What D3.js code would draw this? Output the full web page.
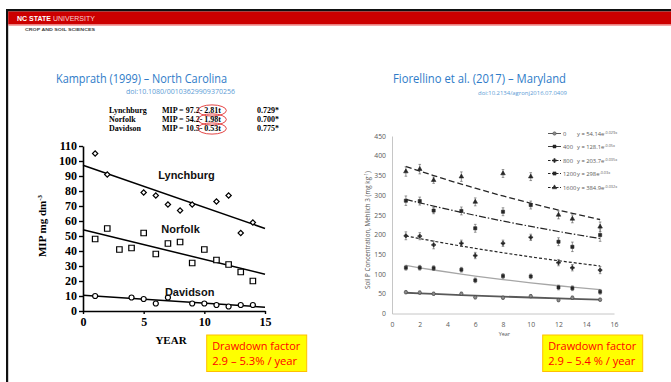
<!DOCTYPE html>
<html>
<head>
<meta charset="utf-8">
<script src="https://d3js.org/d3.v7.min.js"></script>
<style>
  body { margin: 0; background: #fff; }
  svg { display: block; }
</style>
</head>
<body>
<div id="chart"></div>
<script>
// ---- Kamprath (1999) – North Carolina ----
const lynchYears = [1, 2, 5, 6, 7, 8, 9, 11, 12, 13, 14];
const lynchMIP = [105, 91, 79, 77, 71, 67, 71, 73, 77, 52, 59];
const norfolkYears = [1, 2, 3, 4, 5, 6, 7, 8, 9, 10, 11, 12, 13, 14];
const norfolkMIP = [48, 55, 41, 42, 52, 38, 45, 46, 32, 41, 34, 31, 26, 20];
const davidsonYears = [1, 4, 5, 6, 7, 9, 10, 11, 12, 13, 14];
const davidsonMIP = [10, 9, 8, 5, 9, 5, 5, 4, 3, 4, 4];
const soils = ["Lynchburg", "Norfolk", "Davidson"];
const fitIntercept = [97.2, 54.2, 10.5];
const fitSlope = [2.81, 1.98, 0.53];
const fitR2 = ["0.729*", "0.700*", "0.775*"];
const kYTicks = [0, 10, 20, 30, 40, 50, 60, 70, 80, 90, 100, 110];
const kXTicks = [0, 5, 10, 15];

// ---- Fiorellino et al. (2017) – Maryland ----
const mdYears = [1, 2, 3, 5, 6, 8, 10, 12, 13, 15];
const pRates = ["0", "400", "800", "1200", "1600"];
const soilP0 = [54, 53, 50, 50, 41, 40, 44, 34, 40, 35];
const soilP400 = [116, 116, 115, 111, 84, 95, 94, 66, 64, 55];
const soilP800 = [197, 196, 174, 178, 147, 178, 193, 129, 116, 110];
const soilP1200 = [286, 285, 261, 260, 216, 258, 275, 182, 169, 199];
const soilP1600 = [360, 366, 338, 347, 283, 355, 347, 250, 240, 220];
const err0 = [4, 4, 4, 4, 4, 4, 4, 4, 4, 4];
const err400 = [6, 6, 6, 6, 6, 6, 6, 6, 6, 6];
const err800 = [10, 9, 10, 8, 8, 8, 8, 8, 8, 9];
const err1200 = [12, 10, 8, 10, 10, 10, 10, 10, 12, 16];
const err1600 = [12, 12, 8, 12, 10, 10, 10, 10, 10, 12];
const expA = ["54.14", "128.1", "203.7", "298", "384.9"];
const expK = [0.029, 0.05, 0.035, 0.03, 0.032];
const expText = ["-0.029x", "-0.05x", "-0.035x", "-0.03x", "-0.032x"];
const mdYTicks = [0, 50, 100, 150, 200, 250, 300, 350, 400, 450];
const mdXTicks = [0, 2, 4, 6, 8, 10, 12, 14, 16];

const drawdown = ["2.9 – 5.3% / year", "2.9 – 5.4 % / year"];

const W = 671, H = 382;
const svg = d3.select("#chart").append("svg")
  .attr("width", W).attr("height", H);

/* slide frame */
svg.append("rect").attr("x", 6).attr("y", 9).attr("width", W - 6).attr("height", 2.5).attr("fill", "#111");
svg.append("rect").attr("x", 6).attr("y", 9).attr("width", 2.2).attr("height", H - 9).attr("fill", "#111");
svg.append("rect").attr("x", 8.2).attr("y", 11.5).attr("width", W - 8).attr("height", 13).attr("fill", "#cc0000");
svg.append("rect").attr("x", 8.2).attr("y", 24.5).attr("width", W - 8).attr("height", 1.2).attr("fill", "#f08080");

const hdr = svg.append("text").attr("x", 17).attr("y", 21)
  .style("font-family", "'Liberation Sans', Arial, sans-serif").style("font-size", "7px");
hdr.append("tspan").attr("fill", "#fff").style("font-weight", "bold").text("NC STATE ");
hdr.append("tspan").attr("fill", "#f7d0d0").text("UNIVERSITY");
svg.append("text").attr("x", 25).attr("y", 30.5)
  .attr("textLength", 70).attr("lengthAdjust", "spacingAndGlyphs")
  .style("font-family", "'Liberation Sans', Arial, sans-serif").style("font-size", "4.2px")
  .style("font-weight", "bold").attr("fill", "#444").text("CROP AND SOIL SCIENCES");

/* titles */
function title(x, y, w, txt, size, col) {
  svg.append("text").attr("x", x).attr("y", y)
    .attr("textLength", w).attr("lengthAdjust", "spacingAndGlyphs")
    .style("font-family", "'Open Sans', 'Noto Sans', sans-serif").style("font-size", size + "px")
    .attr("fill", col).text(txt);
}
title(56, 83, 171, "Kamprath (1999) – North Carolina", 12, "#2e7bc8");
title(126, 93.5, 109, "doi:10.1080/00103629909370256", 6.3, "#5b9bd5");
title(393, 83, 173, "Fiorellino et al. (2017) – Maryland", 12, "#2e7bc8");
title(478, 95, 89, "doi:10.2134/agronj2016.07.0409", 5.2, "#5b9bd5");

/* ================= left chart ================= */
const xL = d3.scaleLinear().domain([0, 15]).range([83, 265]);
const yL = d3.scaleLinear().domain([0, 110]).range([311, 146]);
const serif = "'Liberation Serif', 'Times New Roman', serif";

// equation table
const eqRows = [113, 122, 131];
soils.forEach((s, i) => {
  const f = svg.append("g").style("font-family", serif).style("font-size", "8px").style("font-weight", "bold");
  f.append("text").attr("x", 109).attr("y", eqRows[i]).text(s);
  const left = f.append("text").attr("x", 162).attr("y", eqRows[i]).text(`MIP = ${fitIntercept[i]} `);
  const lw = left.node().getComputedTextLength();
  const sl = f.append("text").attr("x", 162 + lw).attr("y", eqRows[i]).text(`- ${fitSlope[i]}t`);
  const b = sl.node().getBBox();
  f.append("text").attr("x", 257).attr("y", eqRows[i]).text(fitR2[i]);
  svg.append("ellipse")
    .attr("cx", b.x + b.width / 2 + 1.5).attr("cy", b.y + b.height / 2)
    .attr("rx", b.width / 2 + 3.5).attr("ry", 5.6)
    .attr("fill", "none").attr("stroke", "#e03030").attr("stroke-width", 0.9);
});

const yAxL = svg.append("g").attr("transform", "translate(83,0)")
  .call(d3.axisLeft(yL).tickValues(kYTicks).tickSize(4).tickPadding(2).tickSizeOuter(0));
const xAxL = svg.append("g").attr("transform", "translate(0,311)")
  .call(d3.axisBottom(xL).tickValues(kXTicks).tickSize(3).tickPadding(3).tickSizeOuter(0));
[yAxL, xAxL].forEach(a => {
  a.select(".domain").attr("stroke", "#000").attr("stroke-width", 1.6);
  a.selectAll(".tick line").attr("stroke", "#000").attr("stroke-width", 1.4);
  a.selectAll(".tick text").attr("fill", "#000")
    .style("font-family", serif).style("font-size", "12px").style("font-weight", "bold");
});
svg.append("text").attr("x", 171).attr("y", 344).attr("text-anchor", "middle")
  .style("font-family", serif).style("font-size", "11px").style("font-weight", "bold").text("YEAR");
const yl = svg.append("text").attr("transform", "translate(46,226) rotate(-90)").attr("text-anchor", "middle")
  .style("font-family", serif).style("font-size", "11px").style("font-weight", "bold");
yl.append("tspan").text("MIP mg dm");
yl.append("tspan").attr("dy", -4).style("font-size", "7px").text("-3");

// regression lines
const lineL = d3.line().x(d => xL(d[0])).y(d => yL(d[1]));
soils.forEach((s, i) => {
  svg.append("path")
    .attr("d", lineL(kXTicks.filter(t => t === 0 || t === 15).map(t => [t, fitIntercept[i] - fitSlope[i] * t])))
    .attr("fill", "none").attr("stroke", "#000").attr("stroke-width", 1.5);
});

const kSeries = [
  { years: lynchYears, vals: lynchMIP, shape: d3.symbolSquare, size: 14, rot: 45 },
  { years: norfolkYears, vals: norfolkMIP, shape: d3.symbolSquare, size: 30, rot: 0 },
  { years: davidsonYears, vals: davidsonMIP, shape: d3.symbolCircle, size: 20, rot: 0 }
];
kSeries.forEach(s => {
  svg.append("g").selectAll("path").data(s.years).enter().append("path")
    .attr("transform", (d, j) => `translate(${xL(d)},${yL(s.vals[j])}) rotate(${s.rot})`)
    .attr("d", d3.symbol().type(s.shape).size(s.size))
    .attr("fill", "#fff").attr("stroke", "#000").attr("stroke-width", 1.2);
});
const soilLabelPos = [[6.2, 88], [6.45, 52], [6.75, 10]];
soils.forEach((s, i) => {
  svg.append("text").attr("x", xL(soilLabelPos[i][0])).attr("y", yL(soilLabelPos[i][1]))
    .style("font-family", "'Liberation Sans', Arial, sans-serif").style("font-size", "11px")
    .style("font-weight", "bold").attr("fill", "#111").text(s);
});

/* ================= right chart ================= */
const xR = d3.scaleLinear().domain([0, 16]).range([392, 614]);
const yR = d3.scaleLinear().domain([0, 450]).range([313.5, 136]);
const sans = "'Open Sans', 'Noto Sans', sans-serif";

const yAxR = svg.append("g").attr("transform", "translate(392,0)")
  .call(d3.axisLeft(yR).tickValues(mdYTicks).tickSize(0).tickPadding(6));
const xAxR = svg.append("g").attr("transform", "translate(0,313.5)")
  .call(d3.axisBottom(xR).tickValues(mdXTicks).tickSize(0).tickPadding(9));
[yAxR, xAxR].forEach(a => {
  a.select(".domain").attr("stroke", "#bfbfbf").attr("stroke-width", 0.9);
  a.selectAll(".tick text").attr("fill", "#595959").style("font-family", sans).style("font-size", "6.8px");
});
svg.append("text").attr("x", xR(8.1)).attr("y", 336).attr("text-anchor", "middle")
  .style("font-family", sans).style("font-size", "5.5px").attr("fill", "#595959").text("Year");
const yr = svg.append("text").attr("transform", "translate(370,230) rotate(-90)").attr("text-anchor", "middle")
  .style("font-family", sans).style("font-size", "6.3px").attr("fill", "#595959");
yr.append("tspan").text("Soil P Concentration, Mehlich 3 (mg kg");
yr.append("tspan").attr("dy", -2.5).style("font-size", "4.5px").text("-1");
yr.append("tspan").attr("dy", 2.5).text(")");

const mdSeries = [
  { vals: soilP0, err: err0, shape: d3.symbolCircle, size: 9, fill: "#8c8c8c", stroke: "#404040",
    line: "#595959", lw: 1.8, dash: null },
  { vals: soilP400, err: err400, shape: d3.symbolSquare, size: 9, fill: "#262626", stroke: "#262626",
    line: "#a6a6a6", lw: 1.3, dash: null },
  { vals: soilP800, err: err800, shape: d3.symbolCross, size: 8, fill: "#262626", stroke: "#262626",
    line: "#262626", lw: 1.2, dash: "3,2" },
  { vals: soilP1200, err: err1200, shape: d3.symbolSquare, size: 10, fill: "#262626", stroke: "#262626",
    line: "#262626", lw: 1.2, dash: "7,2,1.5,2" },
  { vals: soilP1600, err: err1600, shape: d3.symbolTriangle, size: 9, fill: "#262626", stroke: "#262626",
    line: "#262626", lw: 1.3, dash: "6,3" }
];

const lineR = d3.line().x(d => xR(d[0])).y(d => yR(d[1])).curve(d3.curveMonotoneX);
mdSeries.forEach((s, i) => {
  const a = +expA[i];
  svg.append("path")
    .attr("d", lineR(mdYears.map(t => [t, a * Math.exp(-expK[i] * t)])))
    .attr("fill", "none").attr("stroke", s.line).attr("stroke-width", s.lw)
    .attr("stroke-dasharray", s.dash);
});
mdSeries.forEach(s => {
  const g = svg.append("g");
  const pts = mdYears.map((t, j) => ({ t, v: s.vals[j], e: s.err[j] }));
  g.selectAll("line.eb").data(pts).enter().append("line").attr("class", "eb")
    .attr("x1", d => xR(d.t)).attr("x2", d => xR(d.t))
    .attr("y1", d => yR(d.v - d.e)).attr("y2", d => yR(d.v + d.e))
    .attr("stroke", "#555").attr("stroke-width", 0.6);
  [["capLo", -1], ["capHi", 1]].forEach(([cls, sgn]) => {
    g.selectAll("line." + cls).data(pts).enter().append("line").attr("class", cls)
      .attr("x1", d => xR(d.t) - 1.3).attr("x2", d => xR(d.t) + 1.3)
      .attr("y1", d => yR(d.v + sgn * d.e))
      .attr("y2", d => yR(d.v + sgn * d.e))
      .attr("stroke", "#555").attr("stroke-width", 0.6);
  });
  g.selectAll("path").data(pts).enter().append("path")
    .attr("transform", d => `translate(${xR(d.t)},${yR(d.v)})`)
    .attr("d", d3.symbol().type(s.shape).size(s.size))
    .attr("fill", s.fill).attr("stroke", s.stroke).attr("stroke-width", 0.6);
});

// legend
const legY = [133.5, 146.5, 160.5, 173.5, 187.5];
mdSeries.forEach((s, i) => {
  const g = svg.append("g").attr("transform", `translate(548,${legY[i]})`);
  g.append("line").attr("x1", 0).attr("x2", 13).attr("y1", 0).attr("y2", 0)
    .attr("stroke", i === 1 ? "#404040" : s.line).attr("stroke-width", 1)
    .attr("stroke-dasharray", s.dash ? "2.5,1.5" : null);
  g.append("path").attr("transform", "translate(6.5,0)")
    .attr("d", d3.symbol().type(s.shape).size(s.size))
    .attr("fill", s.fill).attr("stroke", s.stroke).attr("stroke-width", 0.5);
  g.append("text").attr("x", 15).attr("y", 2).style("font-family", sans).style("font-size", "5.8px")
    .attr("fill", "#595959").text(pRates[i]);
  const eq = g.append("text").attr("x", 29).attr("y", 2).style("font-family", sans)
    .style("font-size", "5.8px").attr("fill", "#595959");
  eq.append("tspan").text(`y = ${expA[i]}e`);
  eq.append("tspan").attr("dy", -2).style("font-size", "3.8px").text(expText[i]);
});

/* drawdown boxes */
[[206.7, drawdown[0]], [542.7, drawdown[1]]].forEach(([bx, txt]) => {
  svg.append("rect").attr("x", bx).attr("y", 335).attr("width", 100).attr("height", 36.5)
    .attr("fill", "#ffff00").attr("stroke", "#ffc000").attr("stroke-width", 1);
  svg.append("text").attr("x", bx + 5.5).attr("y", 349.5).attr("textLength", 88).attr("lengthAdjust", "spacingAndGlyphs")
    .style("font-family", sans).style("font-size", "11px").attr("fill", "#ff0000").text("Drawdown factor");
  svg.append("text").attr("x", bx + 5.5).attr("y", 364.5).attr("textLength", txt.length > 17 ? 87 : 85)
    .attr("lengthAdjust", "spacingAndGlyphs")
    .style("font-family", sans).style("font-size", "11px").attr("fill", "#ff0000").text(txt);
});
</script>
</body>
</html>
